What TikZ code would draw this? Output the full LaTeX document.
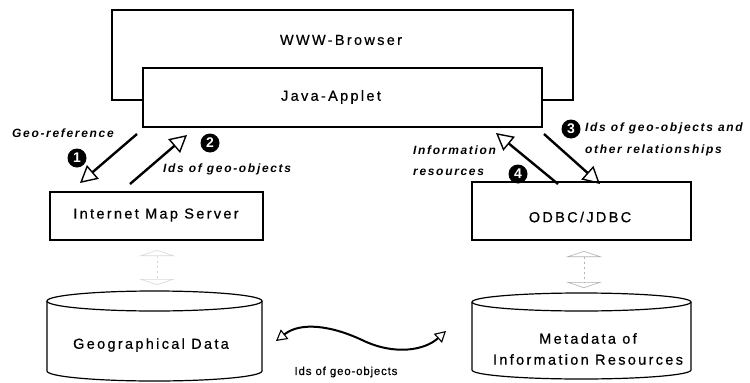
\documentclass[tikz,border=0pt]{standalone}
\usepackage{fontspec}
\setmainfont{Liberation Sans}
\newfontfamily\boxfont{Liberation Sans}[LetterSpace=16,FakeBold=0.6]
\newfontfamily\lblfont{Liberation Sans}[LetterSpace=14]
\newfontfamily\lowfont{Liberation Sans}[LetterSpace=7,FakeBold=0.5]
\usetikzlibrary{arrows.meta}
\begin{document}
\begin{tikzpicture}[x=1pt,y=-1pt,
  box/.style={draw=black,line width=1.2pt,fill=white,inner sep=0pt},
  boxtext/.style={font=\boxfont\fontsize{14.5}{16}\selectfont,inner sep=0pt},
  lbl/.style={font=\lblfont\bfseries\itshape\fontsize{12}{14}\selectfont,inner sep=0pt,anchor=west},
  num/.style={circle,fill=black,text=white,inner sep=0pt,minimum size=19pt,font=\bfseries\fontsize{14}{14}\selectfont},
  bigarrow/.style={line width=2.4pt,-{Triangle[open,length=17pt,width=18pt,line width=1.4pt]}},
  faint/.style={draw=gray!60,line width=0.6pt,dash pattern=on 2pt off 3pt,
     {Triangle[open,length=6pt,width=36pt]}-{Triangle[open,length=6pt,width=36pt]}},
  fainter/.style={faint,draw=gray!30}
]
\useasboundingbox (0,0) rectangle (750,383);

% browser and applet
\node[box,minimum width=461pt,minimum height=90pt] (browser) at (342.5,55) {};
\node[boxtext] (browsertext) at (341,40) {WWW-Browser};
\node[box,minimum width=399pt,minimum height=59pt] (applet) at (342.5,97.5) {};
\node[boxtext] (applettext) at (331,97) {Java-Applet};

% servers
\node[box,minimum width=213pt,minimum height=48pt] (ims) at (156.5,216) {};
\node[boxtext] (imstext) at (156,215) {Internet Map Server};
\node[box,minimum width=219pt,minimum height=58pt] (odbc) at (581.5,211) {};
\node[boxtext] (odbctext) at (580,217) {ODBC/JDBC};

% cylinders
\draw[line width=1.2pt] (47,301) -- (47,371) arc[start angle=180,end angle=360,x radius=107.5pt,y radius=10pt] -- (262,301);
\draw[line width=1.2pt] (154.5,301) ellipse[x radius=107.5pt,y radius=10pt];
\node[boxtext] (geo) at (151,345) {Geographical Data};
\coordinate (geoR) at (276,341);

\draw[line width=1.2pt] (472,302) -- (472,370) arc[start angle=180,end angle=360,x radius=109.5pt,y radius=9pt] -- (691,302);
\draw[line width=1.2pt] (581.5,302) ellipse[x radius=109.5pt,y radius=9pt];
\node[boxtext,align=center] (meta) at (588,349) {Metadata of\\[5pt]Information Resources};
\coordinate (metaL) at (446,331);

% faint server-database links
\coordinate (odbcA) at (584,251);
\coordinate (odbcB) at (584,288);
\draw[faint] (odbcA) -- (odbcB);
\coordinate (imsA) at (157,250);
\coordinate (imsB) at (157,285);
\draw[fainter] (imsA) -- (imsB);

% arrows between applet and servers
\coordinate (a1s) at (137,134);
\coordinate (a1e) at (80,183);
\coordinate (a2s) at (130,184);
\coordinate (a2e) at (187,135);
\coordinate (a3s) at (544,134);
\coordinate (a3e) at (600,184);
\coordinate (a4s) at (558,184);
\coordinate (a4e) at (496,133);
\draw[bigarrow] (a1s) -- (a1e);
\draw[bigarrow] (a2s) -- (a2e);
\draw[bigarrow] (a3s) -- (a3e);
\draw[bigarrow] (a4s) -- (a4e);

\node[num] (n1) at (77,158) {1};
\node[num] (n2) at (210,143) {2};
\node[num] (n3) at (571,129) {3};
\node[num] (n4) at (518,174) {4};

\node[lbl] (l1) at (12,133) {Geo-reference};
\node[lbl] (l2) at (163,169) {Ids of geo-objects};
\node[lbl] (l3a) at (585,128) {Ids of geo-objects and};
\node[lbl] (l3b) at (585,150) {other relationships};
\node[lbl] (l4a) at (413,150) {Information};
\node[lbl] (l4b) at (413,172) {resources};

% curved link between databases
\draw[line width=2pt,{Triangle[open,length=11pt,width=12pt,line width=1.1pt]}-{Triangle[open,length=11pt,width=12pt,line width=1.1pt]}]
  (geoR) .. controls (300,322) and (330,325) .. (362,340) .. controls (395,356) and (425,350) .. (metaL);
\node[font=\lowfont\fontsize{11.5}{13}\selectfont,inner sep=0pt] (l5) at (346,372) {Ids of geo-objects};
\end{tikzpicture}
\end{document}
